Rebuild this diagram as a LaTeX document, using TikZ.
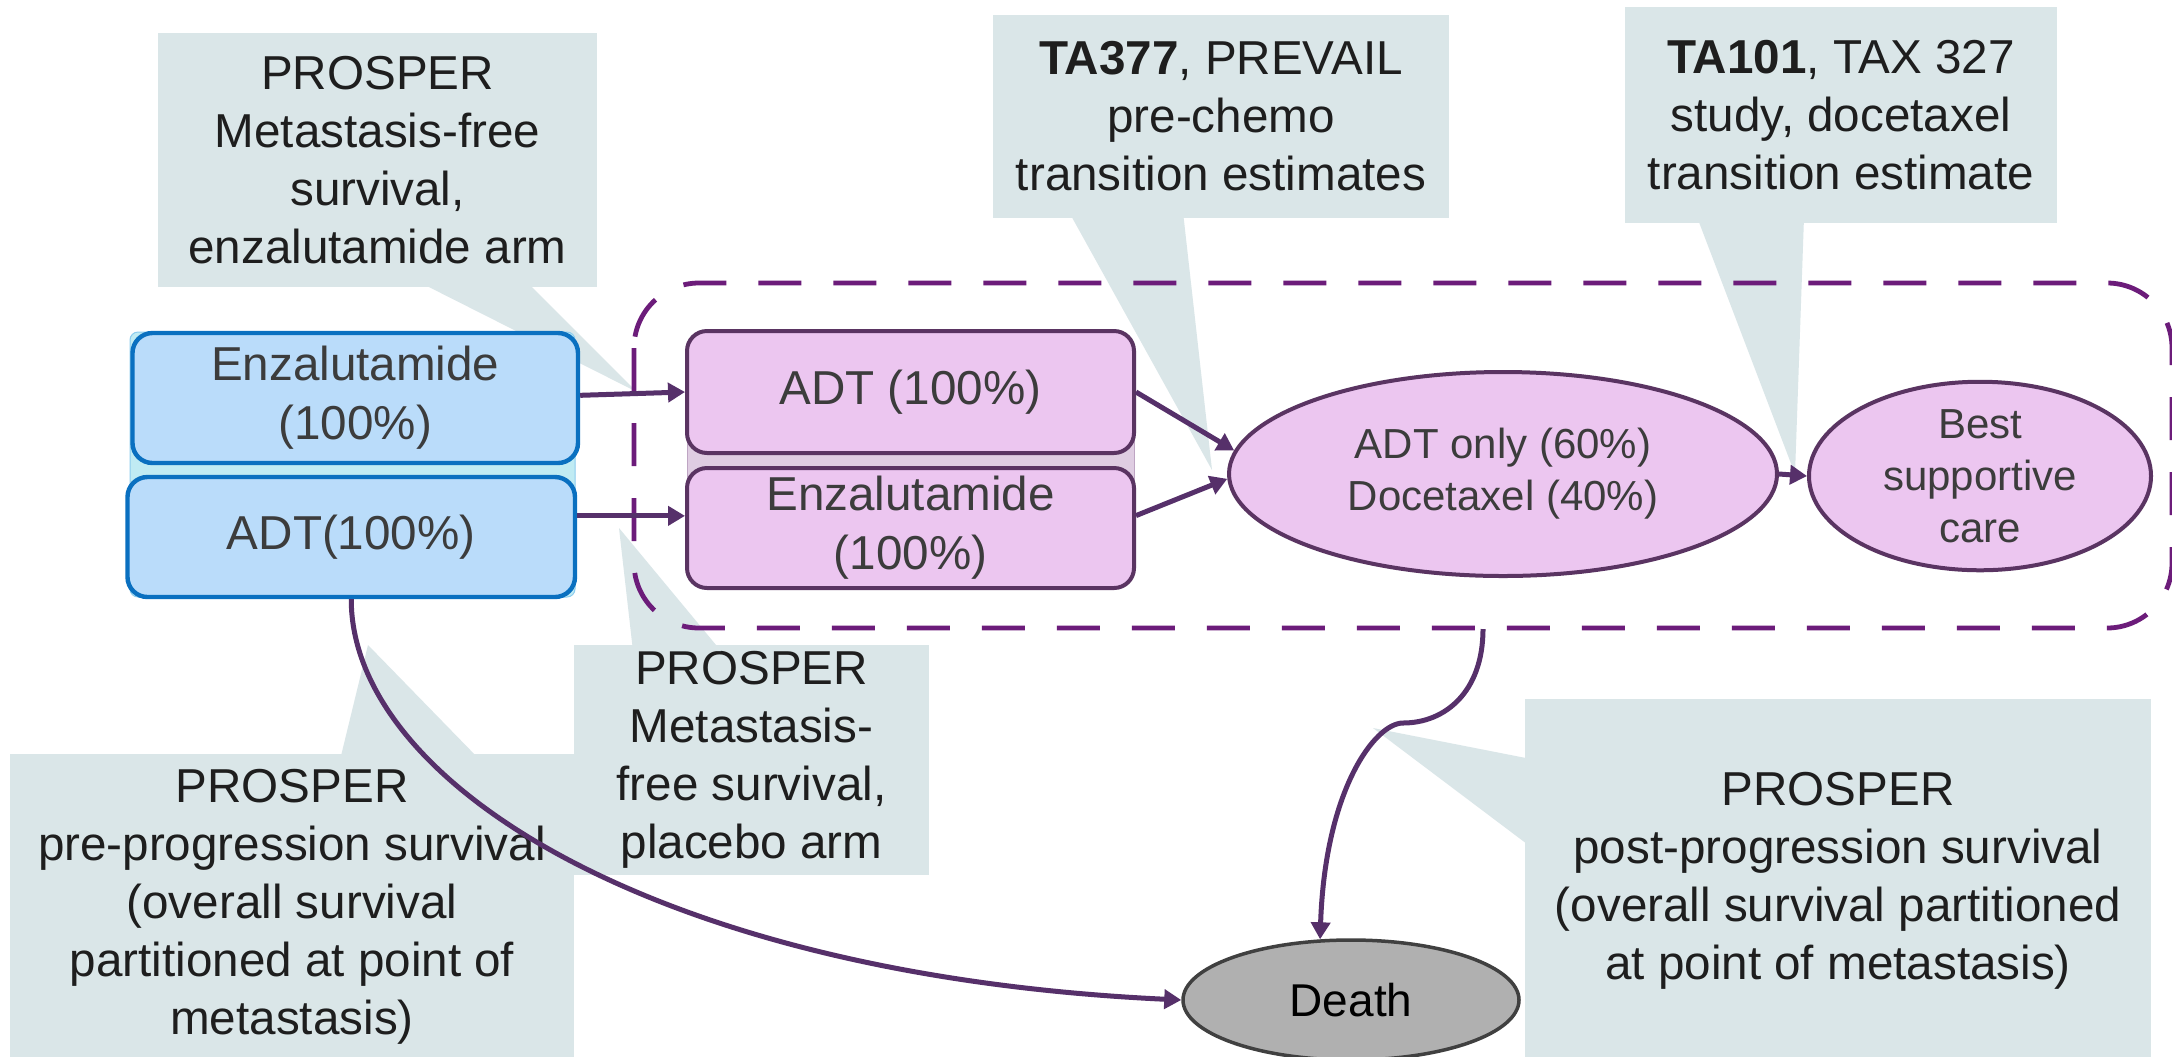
\documentclass[tikz,border=0pt]{standalone}
\usepackage{fontspec}
\setmainfont{Liberation Sans}
\usetikzlibrary{arrows.meta,shapes.geometric,calc}

\definecolor{calloutfill}{RGB}{218,230,232}
\definecolor{callouttext}{RGB}{30,30,30}
\definecolor{nodetext}{RGB}{60,60,60}
\definecolor{bluefill}{RGB}{186,220,250}
\definecolor{blueline}{RGB}{10,112,192}
\definecolor{bluegroup}{RGB}{192,235,243}
\definecolor{bluegroupline}{RGB}{140,204,238}
\definecolor{pinkfill}{RGB}{236,198,240}
\definecolor{pinkline}{RGB}{90,52,98}
\definecolor{pinkgroup}{RGB}{223,205,226}
\definecolor{pinkgroupline}{RGB}{190,165,195}
\definecolor{deathfill}{RGB}{176,176,176}
\definecolor{deathline}{RGB}{64,64,64}
\definecolor{dashcol}{RGB}{108,28,122}
\definecolor{linkcol}{RGB}{86,48,106}

\tikzset{
  callout/.style={rectangle, fill=calloutfill, inner sep=0pt, outer sep=0pt,
    align=center, text=callouttext, font=\fontsize{23.8}{29}\selectfont},
  bluebox/.style={rectangle, rounded corners=10pt, draw=blueline, line width=2.2pt,
    fill=bluefill, inner sep=0pt, align=center, text=nodetext,
    font=\fontsize{23.8}{29.5}\selectfont},
  pinkbox/.style={rectangle, rounded corners=10pt, draw=pinkline, line width=2pt,
    fill=pinkfill, inner sep=0pt, align=center, text=nodetext,
    font=\fontsize{23.8}{29.5}\selectfont},
  pinkoval/.style={ellipse, draw=pinkline, line width=2pt, fill=pinkfill,
    inner sep=0pt, align=center, text=nodetext, font=\fontsize{21}{26}\selectfont},
  deathoval/.style={ellipse, draw=deathline, line width=1.75pt, fill=deathfill,
    inner sep=0pt, text=black, font=\fontsize{23}{28}\selectfont},
  progbox/.style={draw=dashcol, line width=2.4pt, dash pattern=on 21.5pt off 16pt,
    rounded corners=32.5pt},
  link/.style={draw=linkcol, line width=2.5pt, -{Triangle[length=8.5pt,width=9.5pt]}},
}

\begin{document}
\begin{tikzpicture}[x=0.5pt,y=-0.5pt]
\useasboundingbox (0,0) rectangle (2172,1056);
\clip (0,0) rectangle (2172,1056);
\fill[white] (0,0) rectangle (2172,1056);

% ---- source callouts (behind everything) ----
\node[callout, minimum width=219.5pt, minimum height=127pt] (cEnz) at (377.5,160)
  {PROSPER\\Metastasis-free\\survival,\\enzalutamide arm};
\coordinate (tEnz) at (637,392);
\fill[calloutfill] (415,280) -- (525,280) -- (tEnz) -- cycle;

\node[callout, minimum width=228pt, minimum height=101.5pt] (cPrevail) at (1221,116.5)
  {\textbf{TA377}, PREVAIL\\pre-chemo\\transition estimates};
\coordinate (tPrevail) at (1212,470);
\fill[calloutfill] (1069,212) -- (1183,212) -- (tPrevail) -- cycle;

\node[callout, minimum width=216pt, minimum height=108pt] (cTax) at (1841,115)
  {\textbf{TA101}, TAX 327\\study, docetaxel\\transition estimate};
\coordinate (tTax) at (1795,474);
\fill[calloutfill] (1697,217) -- (1804,217) -- (tTax) -- cycle;

\node[callout, minimum width=177.5pt, minimum height=115pt] (cPlacebo) at (751.5,760)
  {PROSPER\\Metastasis-\\free survival,\\placebo arm};
\coordinate (tPlacebo) at (619,528);
\fill[calloutfill] (633,651) -- (721,651) -- (tPlacebo) -- cycle;

\node[callout, minimum width=282pt, minimum height=153pt] (cPre) at (292,907)
  {PROSPER\\pre-progression survival\\(overall survival\\partitioned at point of\\metastasis)};
\coordinate (tPre) at (368,645);
\fill[calloutfill] (340,760) -- (480,760) -- (tPre) -- cycle;

\node[callout, minimum width=313pt, minimum height=182pt] (cPost) at (1838,881)
  {PROSPER\\post-progression survival\\(overall survival partitioned\\at point of metastasis)};
\coordinate (tPost) at (1373,728);
\fill[calloutfill] (1531,759) -- (1531,847) -- (tPost) -- cycle;

% ---- group backgrounds ----
\filldraw[fill=bluegroup, draw=bluegroupline, line width=0.5pt, rounded corners=4pt]
  (130,332) rectangle (575,597);
\filldraw[fill=pinkgroup, draw=pinkgroupline, line width=0.5pt]
  (687,380) rectangle (1134,520);

% ---- states ----
\node[bluebox, minimum width=222.75pt, minimum height=65pt] (bEnz) at (355.25,398)
  {Enzalutamide\\(100\%)};
\node[bluebox, minimum width=223.75pt, minimum height=60pt] (bADT) at (351.25,537)
  {ADT(100\%)};

\node[pinkbox, minimum width=223.5pt, minimum height=61pt] (pADT) at (910.5,392)
  {ADT (100\%)};
\node[pinkbox, minimum width=223.5pt, minimum height=60pt] (pEnz) at (910.5,528)
  {Enzalutamide\\(100\%)};

\node[pinkoval, minimum width=274pt, minimum height=102pt] (eChemo) at (1503,474)
  {ADT only (60\%)\\Docetaxel (40\%)};
\node[pinkoval, minimum width=171pt, minimum height=86pt] (eBSC) at (1980,476)
  {Best\\supportive\\care};

\node[deathoval, minimum width=168pt, minimum height=60pt] (death) at (1351,1000)
  {Death};

% ---- progressed-disease envelope ----
\draw[progbox] (634,283) rectangle (2172,628);

% ---- transitions ----
\coordinate (a1s) at ($(bEnz.north east)!0.48!(bEnz.south east)$);
\draw[link] (a1s) -- (pADT.west);
\coordinate (a2s) at ($(bADT.north east)!0.33!(bADT.south east)$);
\draw[link] (a2s) -- (pEnz.west |- a2s);

\draw[link] (pADT.east) -- (eChemo.175);
\coordinate (a4s) at ($(pEnz.north east)!0.4!(pEnz.south east)$);
\draw[link] (a4s) -- (eChemo.181);
\draw[link] (eChemo.east) -- (eBSC.west);

\draw[link] (bADT.south) .. controls (351,780) and (650,975) .. (death.west);

\coordinate (split) at (1483,629);
\coordinate (bend) at (1403,723);
\draw[link] (split) .. controls (1483,692) and (1445,723) .. (bend)
  .. controls (1375,723) and (1325,790) .. (death.117);
\end{tikzpicture}
\end{document}
